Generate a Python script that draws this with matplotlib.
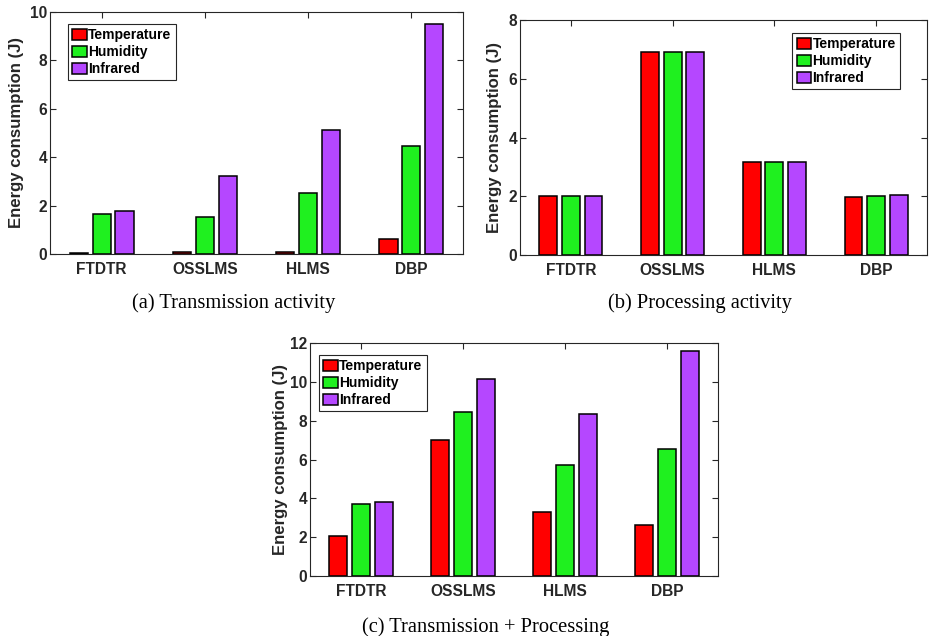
import matplotlib
matplotlib.use("Agg")
import matplotlib.pyplot as plt
import numpy as np

methods = ["FTDTR", "OSSLMS", "HLMS", "DBP"]
series = ["Temperature", "Humidity", "Infrared"]

trans_temp = [0.05, 0.08, 0.10, 0.60]
trans_hum = [1.66, 1.52, 2.52, 4.48]
trans_ir = [1.77, 3.21, 5.14, 9.49]

proc_temp = [2.00, 6.90, 3.18, 1.99]
proc_hum = [2.00, 6.90, 3.18, 2.01]
proc_ir = [2.00, 6.90, 3.18, 2.04]

total_temp = [2.06, 6.98, 3.28, 2.61]
total_hum = [3.70, 8.44, 5.71, 6.52]
total_ir = [3.80, 10.14, 8.34, 11.57]

colors = ["#FF0000", "#1FF01F", "#B547FF"]
W, H = 935, 636

fig = plt.figure(figsize=(W / 100, H / 100), dpi=100)
fig.patch.set_facecolor("white")

tick_color = "#262626"


def make_panel(rect_px, data, ymax, caption, cap_xy, legend_loc, legend_anchor, ylabel_x):
    l, t, r, b = rect_px
    ax = fig.add_axes([l / W, 1 - b / H, (r - l) / W, (b - t) / H])
    x = np.arange(1, len(methods) + 1)
    off = 0.222
    bw = 0.176
    handles = []
    for i, (vals, name) in enumerate(zip(data, series)):
        h = ax.bar(x + (i - 1) * off, vals, width=bw, color=colors[i],
                   edgecolor="black", linewidth=1.1, label=name, zorder=2)
        handles.append(h)
    ax.set_xlim(0.5, 4.5)
    ax.set_ylim(0, ymax)
    ax.set_xticks(x)
    ax.set_xticklabels(methods)
    ax.set_yticks(np.arange(0, ymax + 0.1, 2))
    ax.set_yticklabels([str(int(v)) for v in np.arange(0, ymax + 0.1, 2)])
    ax.tick_params(direction="in", length=4, width=0.8, top=True, right=True,
                   colors=tick_color, labelsize=11.2)
    ax.tick_params(axis="y", pad=2)
    ax.tick_params(axis="x", pad=6)
    for lab in ax.get_xticklabels() + ax.get_yticklabels():
        lab.set_fontweight("bold")
        lab.set_fontfamily("Liberation Sans")
        lab.set_color(tick_color)
    for s in ax.spines.values():
        s.set_color(tick_color)
        s.set_linewidth(0.8)
    ax.set_ylabel("Energy consumption (J)", fontsize=12.1, fontweight="bold",
                  family="Liberation Sans", color=tick_color)
    ax.yaxis.set_label_coords((ylabel_x + 8 - l) / (r - l), 0.5)
    leg = ax.legend(handles=handles, loc=legend_loc, bbox_to_anchor=legend_anchor,
                    prop={"family": "Liberation Sans", "weight": "bold", "size": 10},
                    handlelength=1.05, handleheight=0.8, handletextpad=0.1,
                    borderpad=0.3, labelspacing=0.22, borderaxespad=0.0,
                    fancybox=False, framealpha=1, edgecolor=tick_color)
    leg.get_frame().set_linewidth(0.8)
    fig.text(cap_xy[0] / W, 1 - cap_xy[1] / H, caption, ha="center", va="center",
             family="Liberation Serif", fontsize=14.8)
    return ax


make_panel((50, 12, 463, 254), [trans_temp, trans_hum, trans_ir], 10,
           "(a) Transmission activity", (234, 303), "upper left",
           ((68 - 50) / 413, 1 - (24 - 12) / 242), 16)
make_panel((520, 20, 927, 255), [proc_temp, proc_hum, proc_ir], 8,
           "(b) Processing activity", (700, 303), "upper right",
           ((900 - 520) / 407, 1 - (33 - 20) / 235), 494)
make_panel((310, 343, 718, 576), [total_temp, total_hum, total_ir], 12,
           "(c) Transmission + Processing", (486, 627), "upper left",
           ((319 - 310) / 408, 1 - (355 - 343) / 233), 280)

fig.savefig("out.png", dpi=100, facecolor="white")
